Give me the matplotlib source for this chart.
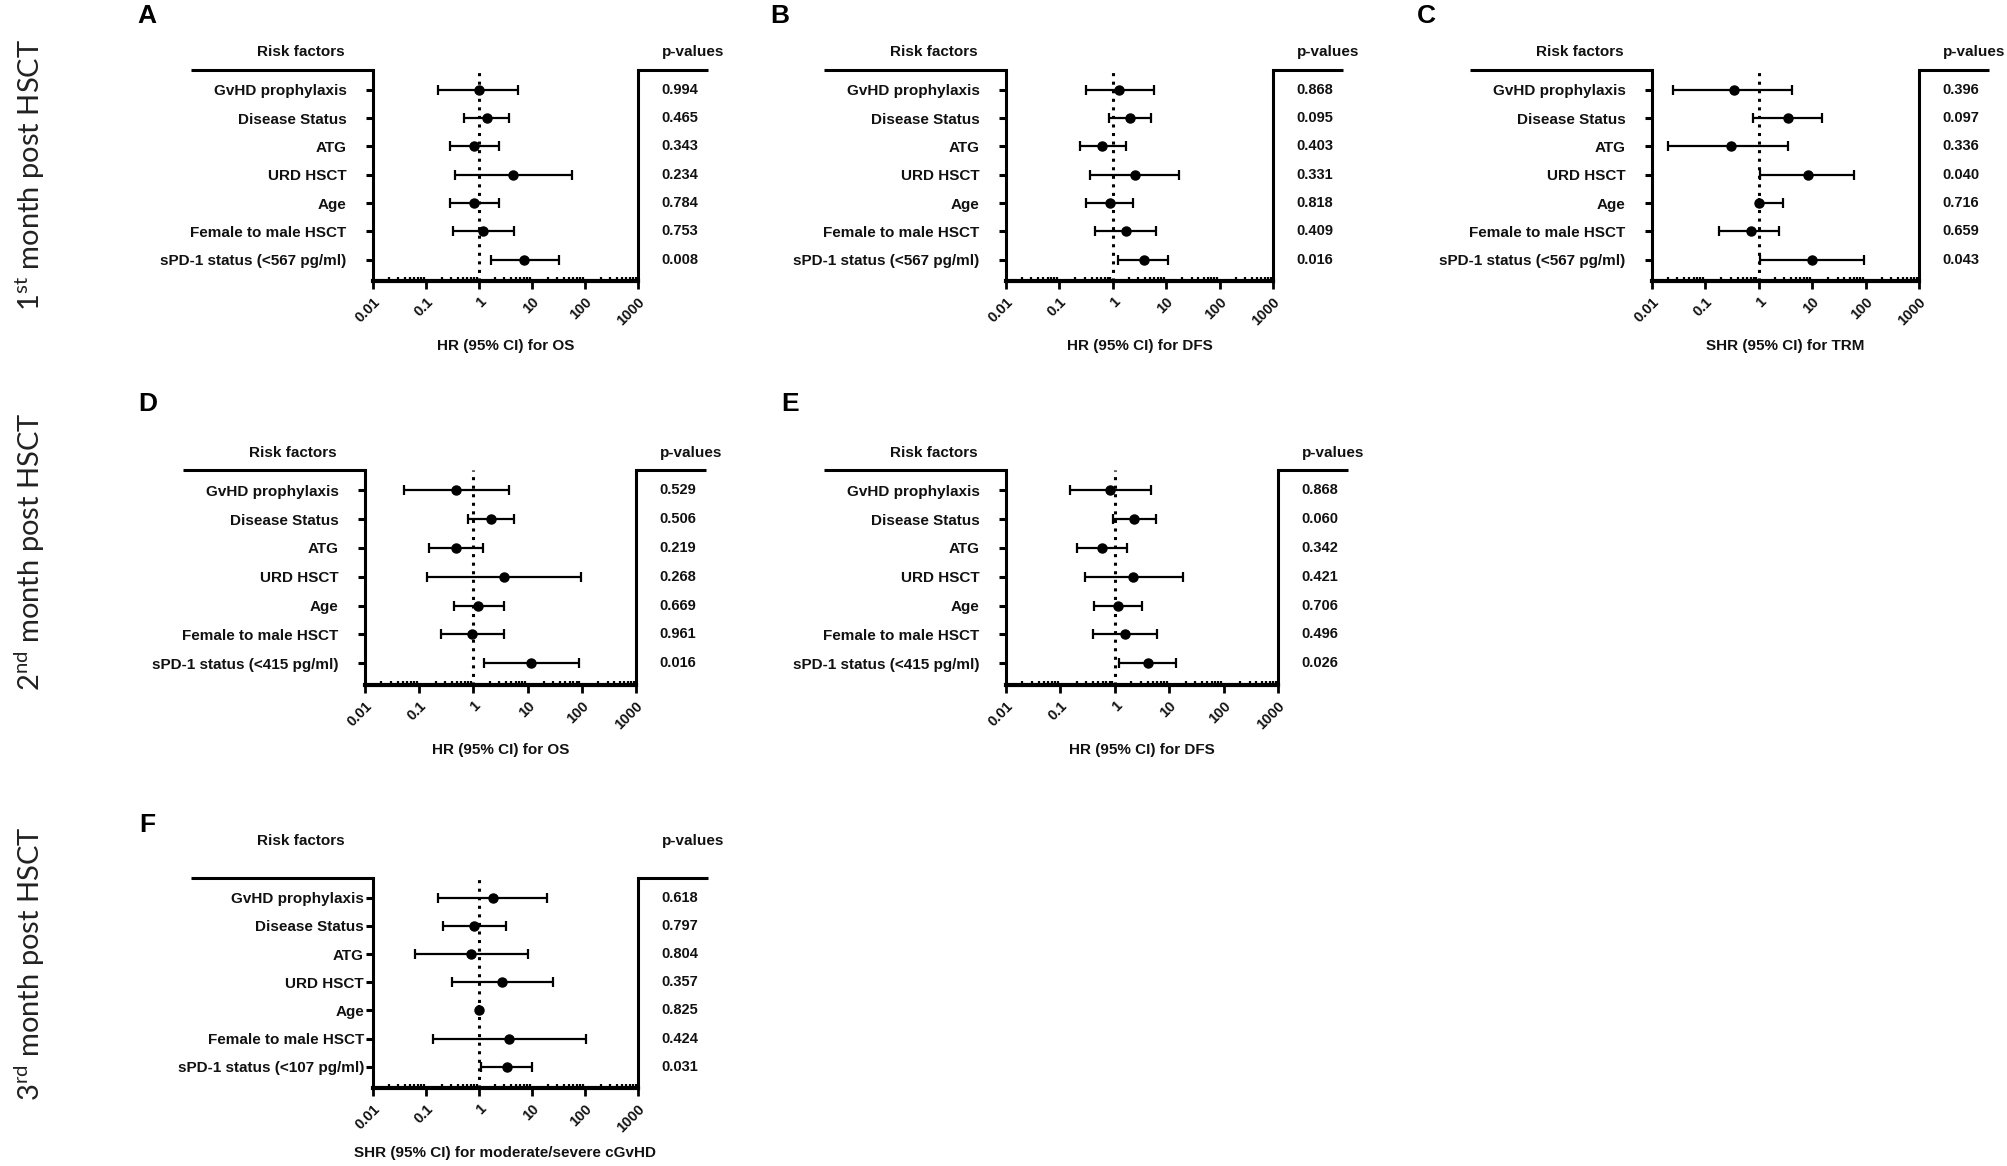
import matplotlib
matplotlib.use("Agg")
import matplotlib.pyplot as plt
from matplotlib.ticker import LogLocator, NullFormatter
from matplotlib.transforms import blended_transform_factory

plt.rcParams["font.family"] = ["Liberation Sans", "DejaVu Sans"]
plt.rcParams["mathtext.fontset"] = "custom"
plt.rcParams["mathtext.rm"] = "Lato"

# ---------------- data ----------------
factors = ["GvHD prophylaxis", "Disease Status", "ATG", "URD HSCT", "Age",
           "Female to male HSCT"]
spd1_A = "sPD-1 status (<567 pg/ml)"
spd1_D = "sPD-1 status (<415 pg/ml)"
spd1_F = "sPD-1 status (<107 pg/ml)"

x_ticks = [0.01, 0.1, 1, 10, 100, 1000]
x_tick_labels = ["0.01", "0.1", "1", "10", "100", "1000"]

hr_A = [1.0, 1.4, 0.82, 4.4, 0.82, 1.2, 7.2]
lo_A = [0.17, 0.53, 0.28, 0.35, 0.28, 0.33, 1.7]
hi_A = [5.4, 3.7, 2.4, 58, 2.4, 4.6, 32]
p_A = ["0.994", "0.465", "0.343", "0.234", "0.784", "0.753", "0.008"]

hr_B = [1.33, 2.1, 0.64, 2.6, 0.89, 1.75, 3.85]
lo_B = [0.32, 0.86, 0.24, 0.38, 0.32, 0.46, 1.26]
hi_B = [5.8, 5.2, 1.75, 17, 2.4, 6.5, 11]
p_B = ["0.868", "0.095", "0.403", "0.331", "0.818", "0.409", "0.016"]

hr_C = [0.34, 3.5, 0.30, 8.2, 1.0, 0.72, 10]
lo_C = [0.025, 0.79, 0.020, 1.06, 1.0, 0.18, 1.06]
hi_C = [4.2, 15, 3.5, 60, 2.9, 2.36, 95]
p_C = ["0.396", "0.097", "0.336", "0.040", "0.716", "0.659", "0.043"]

hr_D = [0.48, 2.1, 0.47, 3.7, 1.23, 0.95, 11.5]
lo_D = [0.053, 0.78, 0.15, 0.14, 0.43, 0.25, 1.55]
hi_D = [4.6, 5.6, 1.5, 97, 3.7, 3.6, 89]
p_D = ["0.529", "0.506", "0.219", "0.268", "0.669", "0.961", "0.016"]

hr_E = [0.83, 2.3, 0.57, 2.2, 1.15, 1.57, 4.0]
lo_E = [0.15, 0.94, 0.20, 0.28, 0.42, 0.40, 1.2]
hi_E = [4.7, 5.6, 1.67, 18, 3.2, 5.9, 13.5]
p_E = ["0.868", "0.060", "0.342", "0.421", "0.706", "0.496", "0.026"]

hr_F = [1.8, 0.81, 0.72, 2.7, 1.0, 3.7, 3.4]
lo_F = [0.166, 0.21, 0.063, 0.31, 1.0, 0.135, 1.08]
hi_F = [19.3, 3.2, 8.4, 24.4, 1.0, 104, 10]
p_F = ["0.618", "0.797", "0.804", "0.357", "0.825", "0.424", "0.031"]

xlabel_A = "HR (95% CI) for OS"
xlabel_B = "HR (95% CI) for DFS"
xlabel_C = "SHR (95% CI) for TRM"
xlabel_F = "SHR (95% CI) for moderate/severe cGvHD"

row_titles = [r"1$^{\mathrm{st}}$ month post HSCT",
              r"2$^{\mathrm{nd}}$ month post HSCT",
              r"3$^{\mathrm{rd}}$ month post HSCT"]

# ---------------- layout ----------------
W, H = 2008, 1166
fig = plt.figure(figsize=(W / 100, H / 100), dpi=100)
fig.patch.set_facecolor("white")
TXT = "#111111"


def fx(px):
    return px / W


def fy(py):
    return 1 - py / H


panels = [
    # letter, (left, right, top, bottom), data, spd label, xlabel, header gap, label pad, letter pos
    ("A", (373, 638, 70, 281), (hr_A, lo_A, hi_A, p_A), spd1_A, xlabel_A, 18, 14, (147, 16)),
    ("B", (1006, 1273, 70, 281), (hr_B, lo_B, hi_B, p_B), spd1_A, xlabel_B, 18, 14, (780, 16)),
    ("C", (1652, 1919, 70, 281), (hr_C, lo_C, hi_C, p_C), spd1_A, xlabel_C, 18, 14, (1426, 16)),
    ("D", (365, 636, 470, 685), (hr_D, lo_D, hi_D, p_D), spd1_D, xlabel_A, 17, 14, (148, 404)),
    ("E", (1006, 1278, 470, 685), (hr_E, lo_E, hi_E, p_E), spd1_D, xlabel_B, 17, 14, (790, 404)),
    ("F", (373, 638, 878, 1088), (hr_F, lo_F, hi_F, p_F), spd1_F, xlabel_F, 37, 1.5, (147, 825)),
]

for letter, (l, r, t, b), (hr, lo, hi, pv), spd, xlab, hgap, lpad, (lx, ly) in panels:
    wpx = r - l
    ax = fig.add_axes([fx(l), fy(b), (r - l) / W, (b - t) / H])
    ax.set_xscale("log")
    ax.set_xlim(0.01, 1000)
    ax.set_ylim(6.75, -0.7)
    ys = list(range(len(hr)))
    xerr = [[h - lo_ for h, lo_ in zip(hr, lo)], [hi_ - h for h, hi_ in zip(hr, hi)]]
    ax.axvline(1, color="black", lw=2.2, linestyle=(0, (1, 1.8)), zorder=2)
    ax.errorbar(hr, ys, xerr=xerr, fmt="o", color="black", ms=6.5,
                elinewidth=1.6, capsize=3.3, capthick=1.6, zorder=3)

    ax.spines["top"].set_visible(False)
    for s in ("left", "right"):
        ax.spines[s].set_linewidth(2.2)
    ax.spines["bottom"].set_linewidth(3.0)

    ax.set_yticks(ys)
    ax.set_yticklabels(factors + [spd], fontsize=11, fontweight="bold", color=TXT)
    ax.tick_params(axis="y", direction="out", length=5, width=2.2, pad=lpad,
                   left=True, right=False)

    ax.set_xticks(x_ticks)
    ax.set_xticklabels(x_tick_labels, rotation=45, ha="right", va="top",
                       rotation_mode="anchor", fontsize=10.5, fontweight="bold",
                       color=TXT)
    ax.xaxis.set_minor_locator(LogLocator(base=10, subs=range(2, 10)))
    ax.xaxis.set_minor_formatter(NullFormatter())
    ax.tick_params(axis="x", which="major", direction="out", length=6, width=2, pad=4)
    ax.tick_params(axis="x", which="minor", direction="in", length=3, width=1.6)

    # top bracket lines
    ax.plot([-182 / wpx, 0], [1, 1], transform=ax.transAxes, clip_on=False,
            color="black", lw=2.2, solid_capstyle="butt")
    ax.plot([1, 1 + 70 / wpx], [1, 1], transform=ax.transAxes, clip_on=False,
            color="black", lw=2.2, solid_capstyle="butt")

    # p-values
    tr = blended_transform_factory(ax.transAxes, ax.transData)
    for yi, p in zip(ys, pv):
        ax.text(1 + 42 / wpx, yi, p, transform=tr, ha="center", va="center",
                fontsize=10.5, fontweight="bold", color=TXT)

    fig.text(fx(l - 72), fy(t - hgap), "Risk factors", ha="center", va="center",
             fontsize=11, fontweight="bold", color=TXT)
    fig.text(fx(r + 55), fy(t - hgap), "p-values", ha="center", va="center",
             fontsize=11, fontweight="bold", color=TXT)
    fig.text(fx((l + r) / 2), fy(b + 65), xlab, ha="center", va="center",
             fontsize=11, fontweight="bold", color=TXT)
    fig.text(fx(lx), fy(ly), letter, ha="center", va="center", fontsize=19,
             fontweight="bold", color="black")

for title, cy in zip(row_titles, [175, 552, 964]):
    fig.text(fx(30), fy(cy), title, rotation=90, ha="center", va="center",
             fontsize=21, family="Lato", color="#222222")

fig.savefig("out.png", dpi=100, facecolor="white")
